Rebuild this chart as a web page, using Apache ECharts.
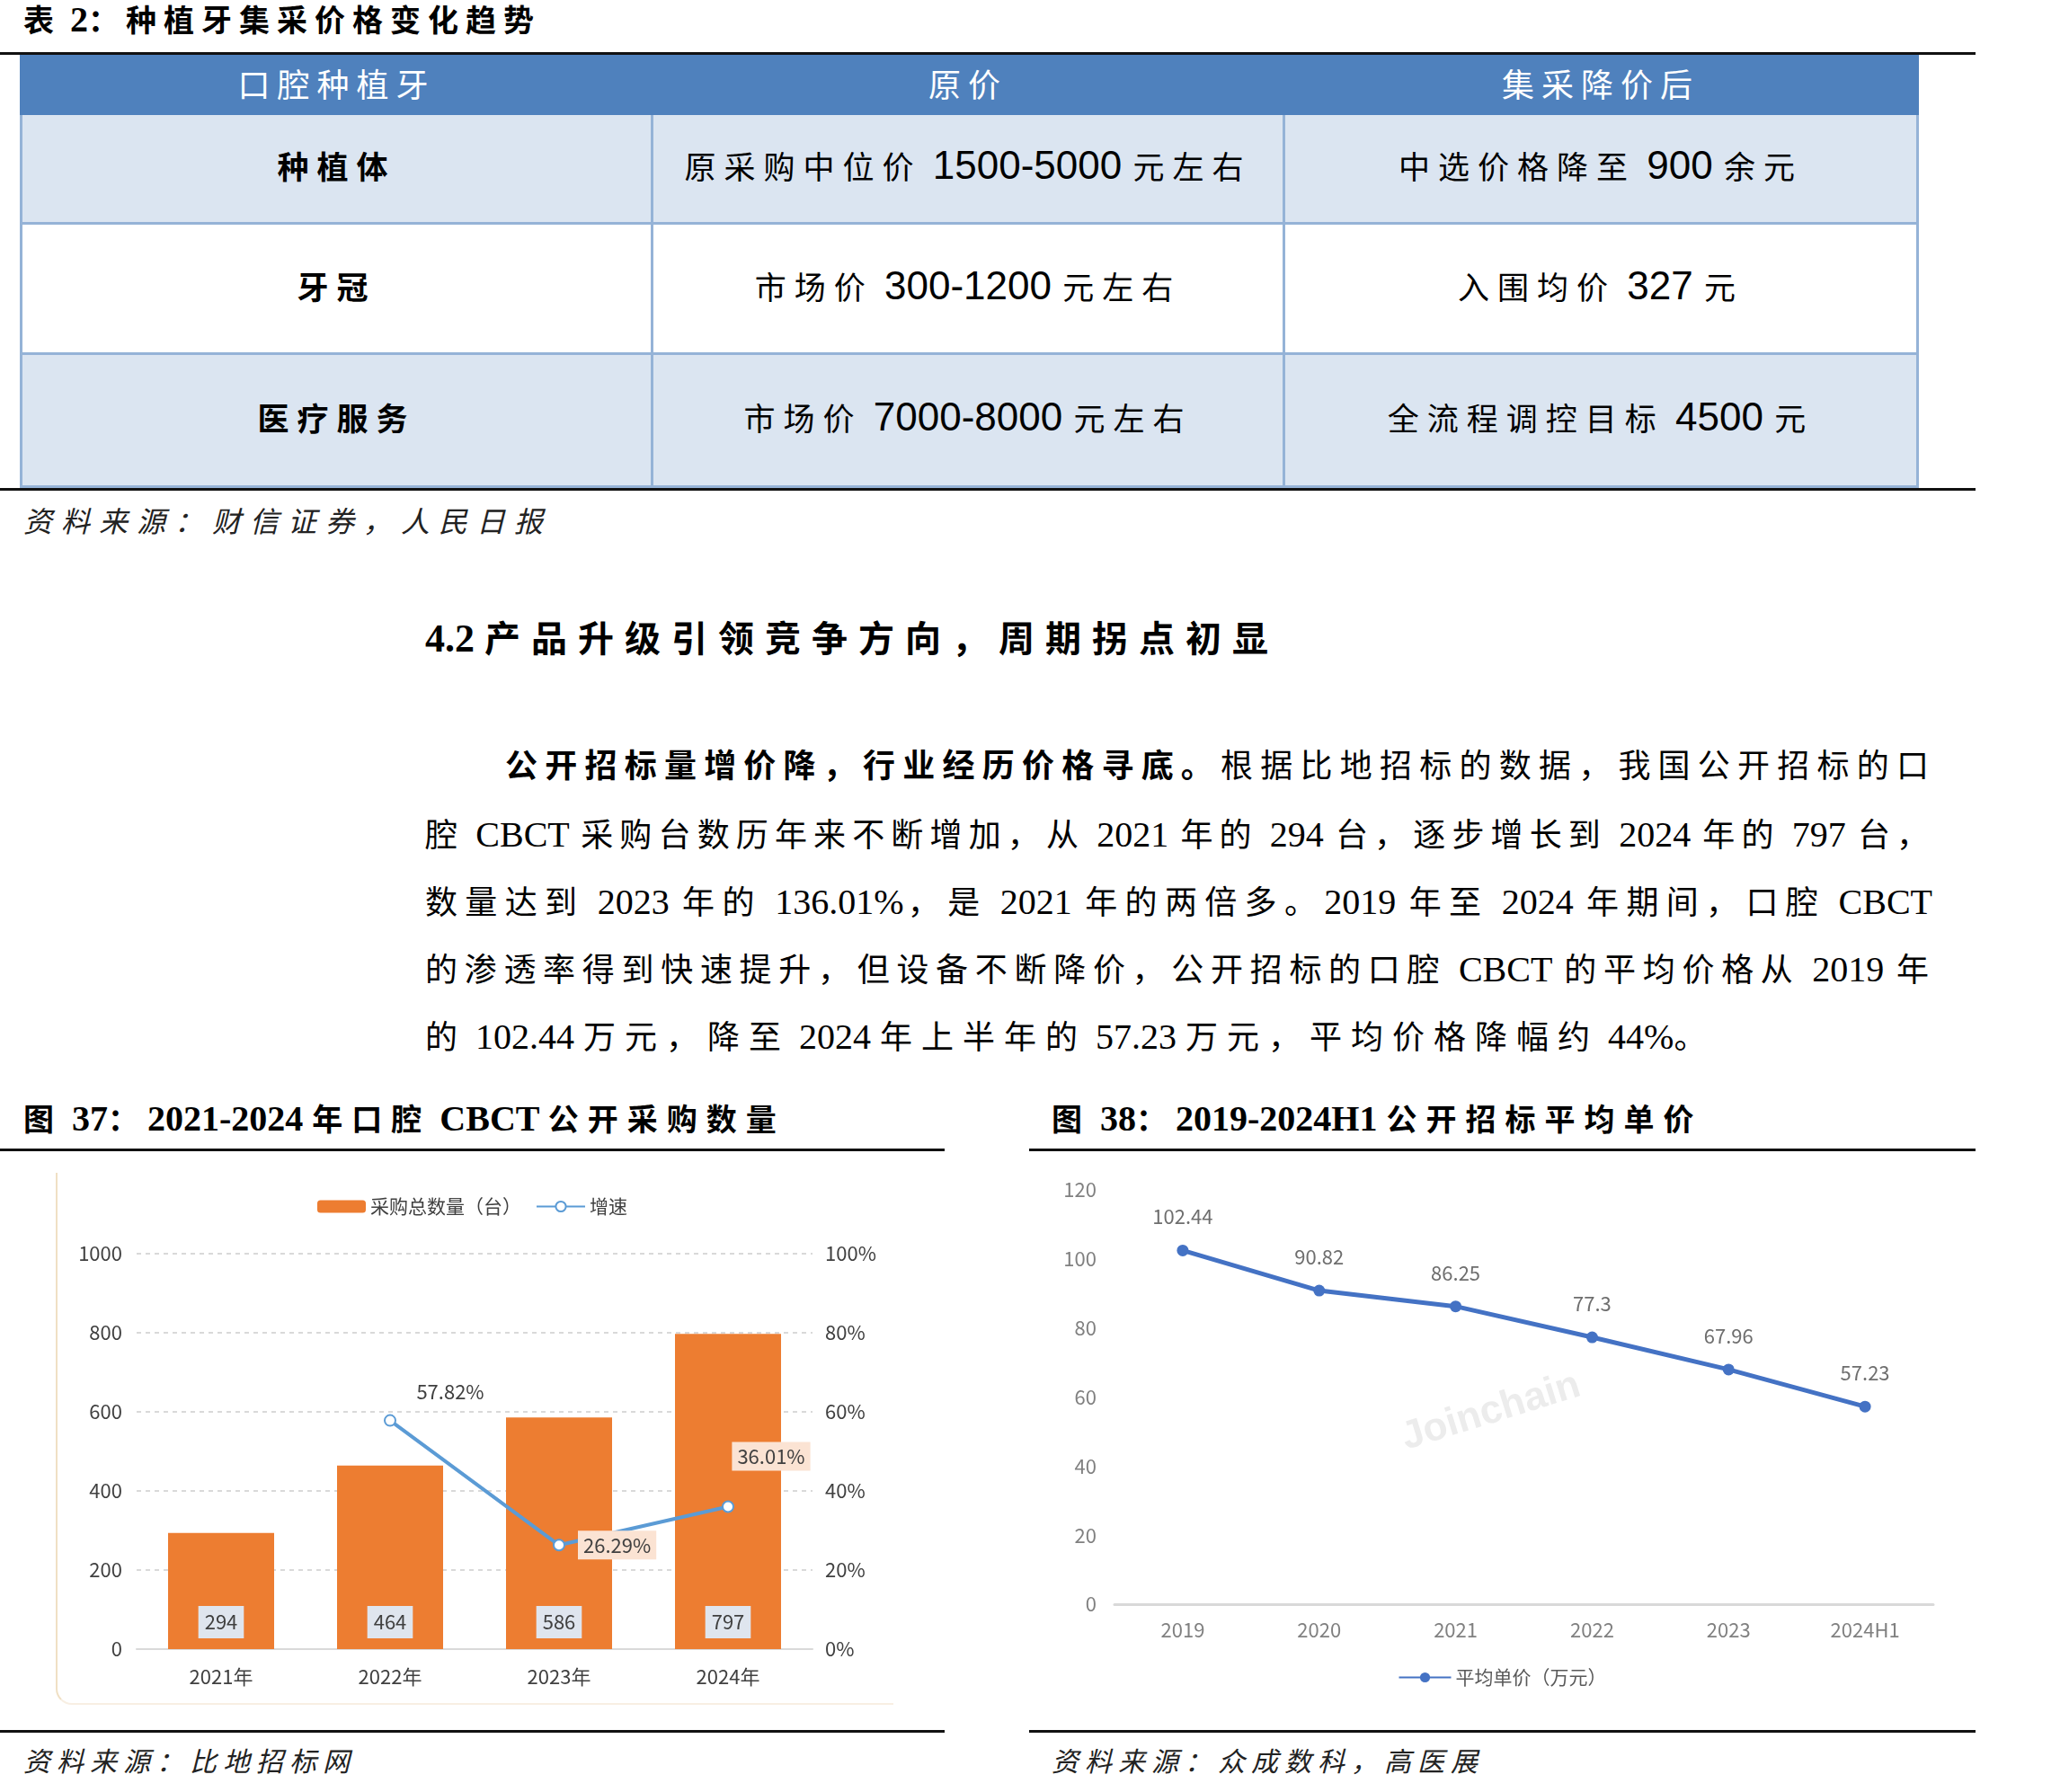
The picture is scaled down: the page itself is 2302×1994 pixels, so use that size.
<!DOCTYPE html>
<html>
<head>
<meta charset="utf-8">
<script src="https://cdn.jsdelivr.net/npm/echarts@6/dist/echarts.min.js"></script>
<style>
body{margin:0;width:2302px;height:1994px;background:#fff;position:relative;overflow:hidden;
  font-family:"Liberation Serif","Noto Sans CJK SC",serif;color:#000}
.abs{position:absolute;white-space:nowrap}
.rule{position:absolute;height:3px;background:#111}
.lat{letter-spacing:0}
.cap{font-weight:bold;font-size:34px;letter-spacing:10px;line-height:44px}
.cap .lat{font-size:40px}
.src{font-style:italic;font-size:30px;letter-spacing:7px;line-height:40px;color:#222}
#tbl{position:absolute;left:22px;top:61px;width:2110px;border-collapse:collapse;table-layout:fixed;
  font-family:"Liberation Sans","Noto Sans CJK SC",sans-serif;font-size:35px;letter-spacing:9px}
#tbl .lat{font-size:44px;line-height:44px}
#tbl td{border:3px solid #95b3d7;text-align:center;padding:0 0 8px 0}
#tbl tr.hd td{background:#4f81bd;color:#fff;height:55px;border-color:#4f81bd;font-size:36px;letter-spacing:8px;padding-bottom:6px}
#tbl tr.shade td{background:#dbe5f1}
#tbl td.b{font-weight:bold}
.head{font-size:40px;font-weight:bold;letter-spacing:12px;line-height:50px}
.head .lat{font-size:44px}
.para{position:absolute;left:473px;width:1677px;font-size:36px;line-height:50px;letter-spacing:4px;
  text-align:justify;text-align-last:justify;white-space:nowrap}
.para .lat{font-size:40px}
.para.last{text-align-last:left;letter-spacing:10px}
#frame{position:absolute;left:62px;top:1305px;width:930px;height:590px;border-left:2px solid #f0e0c4;
  border-bottom:2px solid #f8efe3;border-bottom-left-radius:18px}
</style>
</head>
<body>

<div class="abs cap tight" style="left:26px;top:0px;letter-spacing:8px">表 2：种植牙集采价格变化趋势</div>
<div class="rule" style="left:0;top:58px;width:2198px"></div>

<table id="tbl" class="tight">
  <colgroup><col style="width:702px"><col style="width:703px"><col style="width:705px"></colgroup>
  <tr class="hd"><td>口腔种植牙</td><td>原价</td><td>集采降价后</td></tr>
  <tr class="shade" style="height:122px"><td class="b">种植体</td><td>原采购中位价 1500-5000 元左右</td><td>中选价格降至 900 余元</td></tr>
  <tr style="height:145px"><td class="b">牙冠</td><td>市场价 300-1200 元左右</td><td>入围均价 327 元</td></tr>
  <tr class="shade" style="height:148px"><td class="b">医疗服务</td><td>市场价 7000-8000 元左右</td><td>全流程调控目标 4500 元</td></tr>
</table>
<div class="rule" style="left:0;top:543px;width:2198px"></div>

<div class="abs src" style="left:26px;top:561px;font-size:32px;letter-spacing:10px">资料来源：财信证券，人民日报</div>

<div class="abs head tight" style="left:473px;top:686px">4.2 产品升级引领竞争方向，周期拐点初显</div>

<div class="para tight" style="top:828px;padding-left:89px;width:1588px"><b>公开招标量增价降，行业经历价格寻底。</b>根据比地招标的数据，我国公开招标的口</div>
<div class="para tight" style="top:904px">腔 CBCT 采购台数历年来不断增加，从 2021 年的 294 台，逐步增长到 2024 年的 797 台，</div>
<div class="para tight" style="top:979px">数量达到 2023 年的 136.01%，是 2021 年的两倍多。2019 年至 2024 年期间，口腔 CBCT</div>
<div class="para tight" style="top:1054px">的渗透率得到快速提升，但设备不断降价，公开招标的口腔 CBCT 的平均价格从 2019 年</div>
<div class="para last tight" style="top:1129px">的 102.44 万元，降至 2024 年上半年的 57.23 万元，平均价格降幅约 44%。</div>

<div class="abs cap tight" style="left:26px;top:1223px">图 37：2021-2024 年口腔 CBCT 公开采购数量</div>
<div class="abs cap tight" style="left:1170px;top:1223px">图 38：2019-2024H1 公开招标平均单价</div>
<div class="rule" style="left:0;top:1278px;width:1051px"></div>
<div class="rule" style="left:1145px;top:1278px;width:1053px"></div>

<div id="frame"></div>
<div id="chartLeft" class="abs" style="left:0;top:1290px;width:1051px;height:630px"></div>
<div id="chartRight" class="abs" style="left:1145px;top:1290px;width:1053px;height:630px"></div>

<div class="rule" style="left:0;top:1925px;width:1051px"></div>
<div class="rule" style="left:1145px;top:1925px;width:1053px"></div>
<div class="abs src" style="left:26px;top:1941px">资料来源：比地招标网</div>
<div class="abs src" style="left:1170px;top:1941px">资料来源：众成数科，高医展</div>

<script>
// fig 37 data
const cbctYears = ['2021年', '2022年', '2023年', '2024年'];
const cbctCounts = [294, 464, 586, 797];
const cbctGrowth = [null, 57.82, 26.29, 36.01]; // %
// fig 38 data
const priceYears = ['2019', '2020', '2021', '2022', '2023', '2024H1'];
const avgPrice = [102.44, 90.82, 86.25, 77.3, 67.96, 57.23]; // 万元

// latin runs (with their spaces) get no extra letter spacing, only CJK is spread out
function tightenLatin(el) {
    const walker = document.createTreeWalker(el, NodeFilter.SHOW_TEXT);
    const nodes = [];
    while (walker.nextNode()) nodes.push(walker.currentNode);
    nodes.forEach(n => {
        const parts = n.nodeValue.split(/( ?[A-Za-z0-9.%\-]+ ?)/);
        if (parts.length < 2) return;
        const frag = document.createDocumentFragment();
        parts.forEach((p, i) => {
            if (!p) return;
            if (i % 2) {
                const s = document.createElement('span');
                s.className = 'lat';
                s.textContent = p;
                frag.appendChild(s);
            } else {
                frag.appendChild(document.createTextNode(p));
            }
        });
        n.parentNode.replaceChild(frag, n);
    });
}
document.querySelectorAll('.tight').forEach(tightenLatin);

const chartFont = '"Noto Sans CJK SC", "Liberation Sans", sans-serif';

// Fig 37: bars + growth line
const left = echarts.init(document.getElementById('chartLeft'));
const growthLabels = [
    {},
    { position: 'top', offset: [67, -9] },
    { position: 'right', distance: 14, backgroundColor: '#fbe3d3', padding: [5, 6] },
    { position: 'top', offset: [48, -28], backgroundColor: '#fbe3d3', padding: [5, 6] }
];
left.setOption({
    textStyle: { fontFamily: chartFont },
    animation: false,
    legend: {
        top: 37, left: 'center', itemWidth: 54, itemHeight: 14, itemGap: 16,
        textStyle: { fontSize: 21, color: '#404040' },
        data: ['采购总数量（台）', '增速']
    },
    grid: { left: 152, right: 147, top: 105, height: 440 },
    xAxis: {
        type: 'category', data: cbctYears,
        axisLine: { lineStyle: { color: '#d9d9d9', width: 2 } },
        axisTick: { show: false },
        axisLabel: { fontSize: 22, color: '#404040', margin: 20 }
    },
    yAxis: [{
        type: 'value', min: 0, max: 1000, interval: 200,
        axisLine: { show: false }, axisTick: { show: false },
        axisLabel: { fontSize: 22, color: '#404040', margin: 16, formatter: v => String(v) },
        splitLine: { lineStyle: { color: '#d9d9d9', type: [5, 5], width: 2 } }
    }, {
        type: 'value', min: 0, max: 100, interval: 20,
        axisLine: { show: false }, axisTick: { show: false },
        axisLabel: { fontSize: 22, color: '#404040', margin: 14, formatter: '{value}%' },
        splitLine: { show: false }
    }],
    series: [{
        name: '采购总数量（台）', type: 'bar', barWidth: 118,
        data: cbctCounts,
        itemStyle: { color: '#ed7d31' },
        label: {
            show: true, position: 'insideBottom', distance: 12,
            fontSize: 22, color: '#404040', backgroundColor: '#dfe5ee', padding: [7, 7]
        }
    }, {
        name: '增速', type: 'line', yAxisIndex: 1,
        data: cbctGrowth.map((v, i) => ({ value: v, label: growthLabels[i] })),
        lineStyle: { color: '#5b9bd5', width: 4 },
        itemStyle: { color: '#5b9bd5', borderWidth: 2 },
        symbol: 'emptyCircle', symbolSize: 12,
        label: {
            show: true, fontSize: 22, color: '#404040',
            formatter: p => p.value.toFixed(2) + '%'
        }
    }]
});

// Fig 38: average price line
const right = echarts.init(document.getElementById('chartRight'));
right.setOption({
    textStyle: { fontFamily: chartFont },
    animation: false,
    legend: {
        top: 561, left: 'center', itemWidth: 58, itemHeight: 14,
        textStyle: { fontSize: 21, color: '#595959' }
    },
    grid: { left: 95, right: 47, top: 34, height: 461 },
    graphic: [{
        type: 'text', x: 514, y: 281, rotation: 0.3, z: -1,
        style: { text: 'Joinchain', align: 'center', verticalAlign: 'middle',
                 font: 'bold 44px "Liberation Sans"', fill: '#ececec' }
    }],
    xAxis: {
        type: 'category', data: priceYears,
        axisLine: { lineStyle: { color: '#d9d9d9', width: 3 } },
        axisTick: { show: false },
        axisLabel: { fontSize: 22, color: '#808080', margin: 18 }
    },
    yAxis: {
        type: 'value', min: 0, max: 120, interval: 20,
        axisLine: { show: false }, axisTick: { show: false },
        axisLabel: { fontSize: 22, color: '#808080', margin: 20 },
        splitLine: { show: false }
    },
    series: [{
        name: '平均单价（万元）', type: 'line', data: avgPrice,
        lineStyle: { color: '#4472c4', width: 5 },
        itemStyle: { color: '#4472c4' },
        symbol: 'circle', symbolSize: 13,
        label: { show: true, position: 'top', distance: 20, fontSize: 22, color: '#6e6e6e' }
    }]
});
</script>
</body>
</html>
